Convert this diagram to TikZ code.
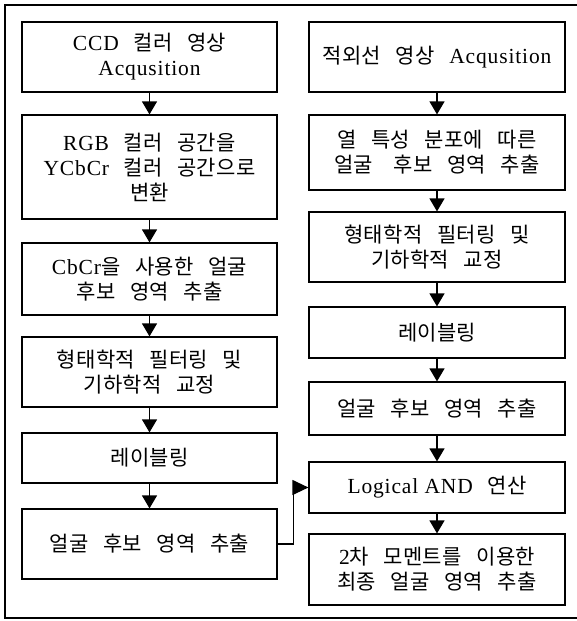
\documentclass[tikz,border=0pt]{standalone}
\usepackage{fontspec}
\setmainfont{Liberation Serif}[LetterSpace=4]
\newfontfamily\krf{Noto Sans CJK KR}[LetterSpace=1,WordSpace=3]
\newcommand\kr[1]{{\krf\fontsize{21}{25}\selectfont #1}}
\usetikzlibrary{arrows.meta}
\begin{document}
\begin{tikzpicture}[x=1pt,y=-1pt,
  box/.style={draw,line width=1.2pt,minimum width=255pt,align=center,inner sep=0pt,
    font=\fontsize{21.5}{25}\selectfont},
  arr/.style={line width=1.2pt,-{Triangle[width=15pt,length=13pt]}},
  frame/.style={line width=1.5pt}]
\useasboundingbox (0,0) rectangle (576,621);
\draw[frame] (590,5) -- (5,5) -- (5,618) -- (590,618);
% left column
\node[box,minimum height=70pt] (L1) at (149.5,57) {CCD\kr{ 컬러 영상}\\Acqusition};
\node[box,minimum height=104pt] (L2) at (149.5,167) {RGB\kr{ 컬러 공간을}\\YCbCr\kr{ 컬러 공간으로}\\\kr{변환}};
\node[box,minimum height=72pt] (L3) at (149.5,279) {CbCr\kr{을 사용한 얼굴}\\\kr{후보 영역 추출}};
\node[box,minimum height=70pt] (L4) at (149.5,372) {\kr{형태학적 필터링 및}\\\kr{기하학적 교정}};
\node[box,minimum height=50pt] (L5) at (149.5,458) {\kr{레이블링}};
\node[box,minimum height=70pt] (L6) at (149.5,544) {\kr{얼굴 후보 영역 추출}};
% right column
\node[box,minimum width=256pt,minimum height=70pt] (R1) at (437,57) {\kr{적외선 영상 }Acqusition};
\node[box,minimum width=256pt,minimum height=75pt] (R2) at (437,152.5) {\kr{열 특성 분포에 따른}\\\kr{얼굴\hspace{6pt} 후보 영역 추출}};
\node[box,minimum width=256pt,minimum height=70pt] (R3) at (437,247) {\kr{형태학적 필터링 및}\\\kr{기하학적 교정}};
\node[box,minimum width=256pt,minimum height=51pt] (R4) at (437,332.5) {\kr{레이블링}};
\node[box,minimum width=256pt,minimum height=53pt] (R5) at (437,408.5) {\kr{얼굴 후보 영역 추출}};
\node[box,minimum width=256pt,minimum height=51pt] (R6) at (437,487.5) {Logical AND\kr{ 연산}};
\node[box,minimum width=256pt,minimum height=71pt] (R7) at (437,569.5) {2\kr{차 모멘트를 이용한}\\\kr{최종 얼굴 영역 추출}};
% arrows
\draw[arr] (L1) -- (L2);
\draw[arr] (L2) -- (L3);
\draw[arr] (L3) -- (L4);
\draw[arr] (L4) -- (L5);
\draw[arr] (L5) -- (L6);
\draw[arr] (R1) -- (R2);
\draw[arr] (R2) -- (R3);
\draw[arr] (R3) -- (R4);
\draw[arr] (R4) -- (R5);
\draw[arr] (R5) -- (R6);
\draw[arr] (R6) -- (R7);
\draw[line width=1.2pt,-{Triangle[width=15pt,length=16pt]}] (L6.east) -- ++(16,0) |- (R6.west);
\end{tikzpicture}
\end{document}
